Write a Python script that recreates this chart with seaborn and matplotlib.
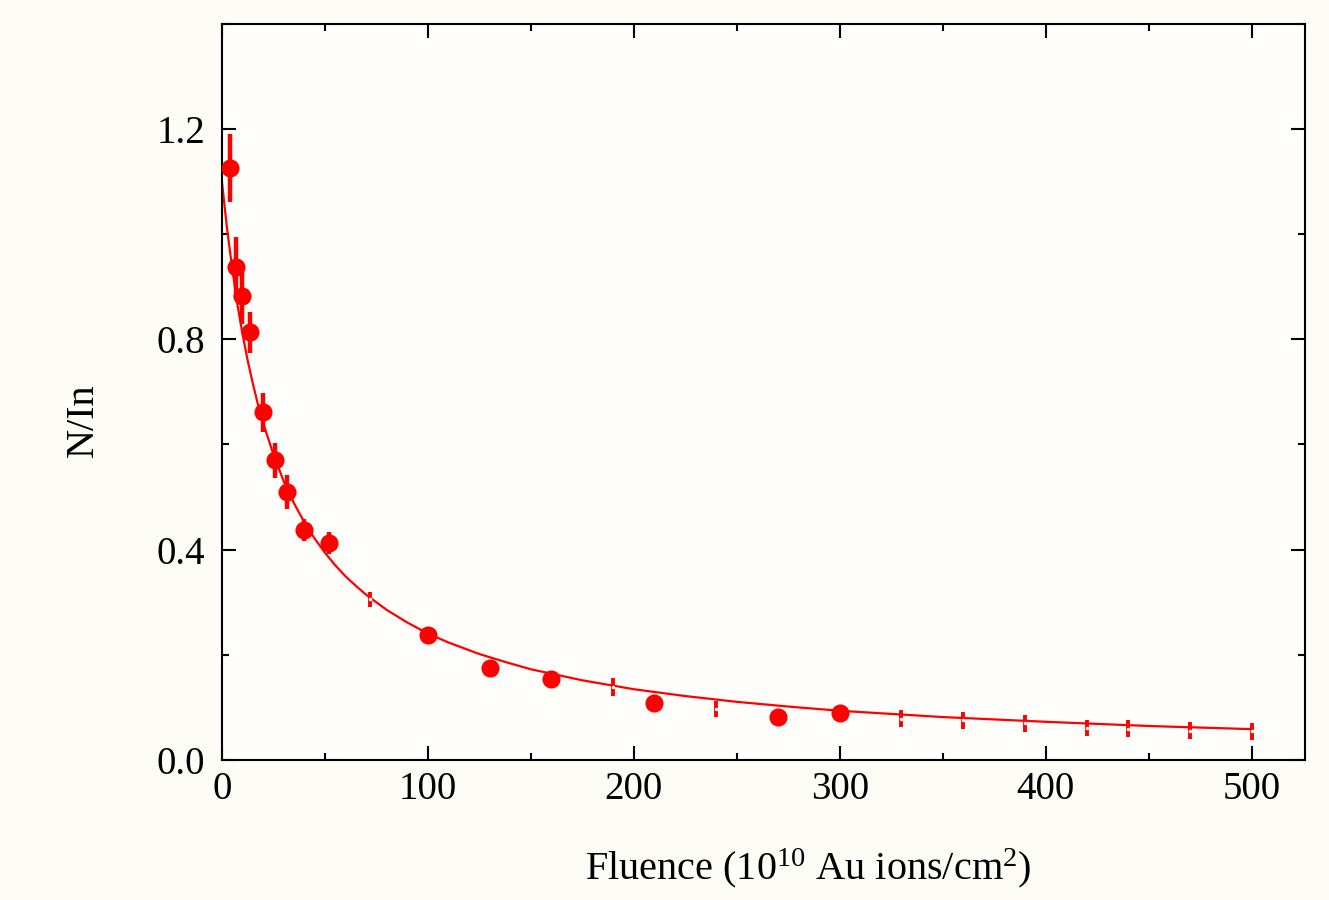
import numpy as np
import pandas as pd
import matplotlib
matplotlib.use("Agg")
import matplotlib.pyplot as plt
import seaborn as sns
from matplotlib.ticker import MultipleLocator

# data points with visible markers
fluence = [4, 6.8, 9.5, 13.7, 19.7, 25.7, 31.7, 40, 51.8, 100, 130, 160, 210, 270, 300]
ratio = [1.127, 0.937, 0.883, 0.814, 0.661, 0.570, 0.509, 0.437, 0.412,
         0.238, 0.174, 0.153, 0.108, 0.081, 0.089]
ratio_err = [0.065, 0.058, 0.053, 0.039, 0.037, 0.033, 0.032, 0.021, 0.021,
             0.012, 0.012, 0.012, 0.012, 0.010, 0.012]

# points drawn only as error bars
fluence_bar = [72, 190, 240, 330, 360, 390, 420, 440, 470, 500]
ratio_bar = [0.305, 0.139, 0.096, 0.078, 0.075, 0.069, 0.060, 0.059, 0.055, 0.054]
ratio_bar_err = [0.015, 0.017, 0.015, 0.016, 0.016, 0.016, 0.016, 0.016, 0.016, 0.016]

# fitted curve
fit_x = [0, 2.5, 5, 7.5, 10, 12.5, 15, 17.5, 20, 25, 30, 35, 40, 45, 50, 55, 60,
         65, 70, 80, 90, 100, 110, 125, 137.5, 150, 175, 200, 225, 250, 275,
         300, 350, 400, 450, 500]
fit_y = [1.100, 1.010, 0.935, 0.867, 0.810, 0.760, 0.716, 0.676, 0.641, 0.581,
         0.530, 0.488, 0.452, 0.421, 0.394, 0.370, 0.349, 0.331, 0.314, 0.285,
         0.261, 0.240, 0.223, 0.201, 0.186, 0.172, 0.151, 0.134, 0.121, 0.110,
         0.101, 0.093, 0.081, 0.072, 0.064, 0.058]

sns.set_theme(style="ticks")
plt.rcParams["font.family"] = ["Liberation Serif", "DejaVu Serif"]
plt.rcParams["mathtext.fontset"] = "custom"
plt.rcParams["mathtext.rm"] = "Liberation Serif"
plt.rcParams["mathtext.it"] = "Liberation Serif:italic"
plt.rcParams["text.color"] = "black"
plt.rcParams["axes.labelcolor"] = "black"
plt.rcParams["xtick.color"] = "black"
plt.rcParams["ytick.color"] = "black"

red = "#ff0000"
bg = "#fefcf7"

fig = plt.figure(figsize=(13.29, 9), dpi=100, facecolor=bg)
ax = fig.add_axes([0.167, 0.156, 0.815, 0.817])
ax.set_facecolor("#fffefb")

fit_df = pd.DataFrame({"x": fit_x, "y": fit_y})
sns.lineplot(data=fit_df, x="x", y="y", color=red, linewidth=1.6, ax=ax, zorder=2)

ax.errorbar(fluence_bar, ratio_bar, yerr=ratio_bar_err, fmt="none",
            ecolor=red, elinewidth=2.8, zorder=3)
# small gap in the middle of the bars
ax.plot(fluence_bar, ratio_bar, linestyle="none", marker="o", markersize=2.5,
        markerfacecolor="#fffefb", markeredgewidth=0, zorder=4)

ax.errorbar(fluence, ratio, yerr=ratio_err, fmt="none",
            ecolor=red, elinewidth=3.2, zorder=5)
pts = pd.DataFrame({"x": fluence, "y": ratio})
sns.scatterplot(data=pts, x="x", y="y", color=red, s=170, edgecolor=red,
                linewidth=0, ax=ax, zorder=6)

ax.set_xlim(0, 526)
ax.set_ylim(0, 1.4)
ax.xaxis.set_major_locator(MultipleLocator(100))
ax.xaxis.set_minor_locator(MultipleLocator(50))
ax.yaxis.set_major_locator(MultipleLocator(0.4))
ax.yaxis.set_minor_locator(MultipleLocator(0.2))
ax.yaxis.set_major_formatter(matplotlib.ticker.FormatStrFormatter("%.1f"))

ax.tick_params(which="both", direction="in", top=True, right=True,
               color="black", width=1.5, labelsize=28, labelcolor="black")
ax.tick_params(axis="x", pad=8)
ax.tick_params(axis="y", pad=12)
ax.tick_params(which="major", length=10)
ax.tick_params(which="minor", length=5)
for s in ax.spines.values():
    s.set_linewidth(1.5)
    s.set_color("black")

ax.set_xlabel("Fluence (10$^{10}$ Au ions/cm$^{2}$)", fontsize=29, color="black")
ax.xaxis.set_label_coords(0.541, -0.118)
ax.set_ylabel("N/In", fontsize=29, color="black")
ax.yaxis.set_label_coords(-0.111, 0.462)

fig.savefig("out.png", dpi=100, facecolor=bg)
